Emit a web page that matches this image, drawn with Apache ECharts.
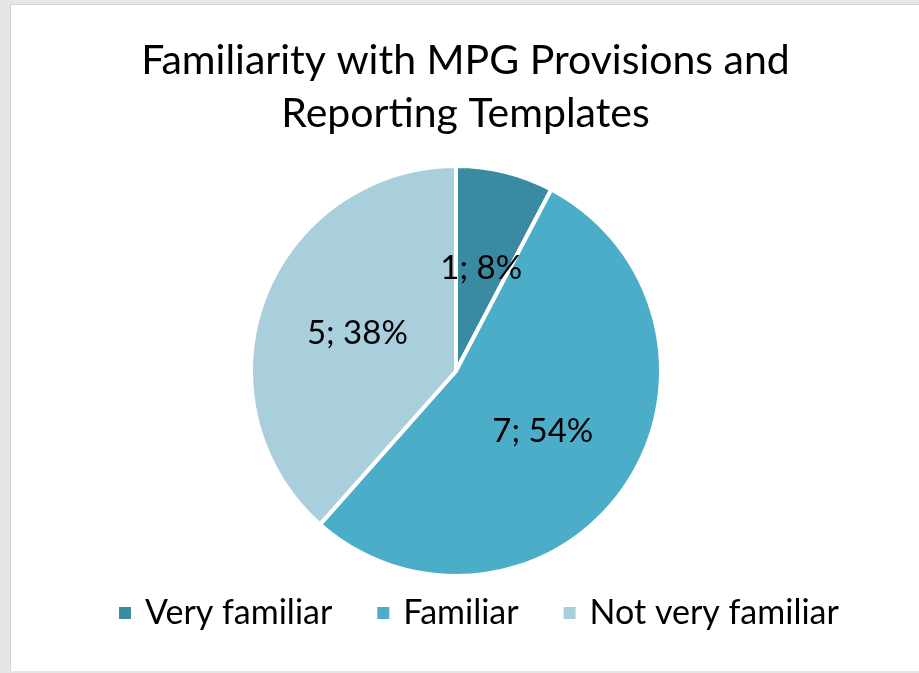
<!DOCTYPE html>
<html>
<head>
<meta charset="utf-8">
<script src="https://cdn.jsdelivr.net/npm/echarts@6/dist/echarts.min.js"></script>
<style>
  html, body {
    margin: 0;
    padding: 0;
    width: 919px;
    height: 673px;
    background: #e6e6e6;
    overflow: hidden;
  }
  .chart {
    position: absolute;
    left: 10px;
    top: 4px;
    width: 909px;
    height: 666px;
    background: #fff;
    border-left: 1px solid #d4d4d4;
    border-top: 1px solid #d4d4d4;
  }
</style>
</head>
<body>
<div class="chart" id="chart"></div>
<script>
const categories = ["Very familiar", "Familiar", "Not very familiar"];
const counts = [1, 7, 5];
const colors = ["#3a8ba1", "#4badc7", "#a9cfdd"];

const font = "Lato, 'Noto Sans', sans-serif";
const total = counts.reduce((a, b) => a + b, 0);

const chart = echarts.init(document.getElementById("chart"));
chart.setOption({
  animation: false,
  title: {
    text: "Familiarity with MPG Provisions and\nReporting Templates",
    left: "center",
    top: 24,
    textStyle: {
      fontFamily: font,
      fontSize: 41,
      fontWeight: "normal",
      color: "#000",
      lineHeight: 53
    }
  },
  legend: {
    data: categories,
    bottom: 36,
    left: 101,
    icon: "rect",
    itemWidth: 14,
    itemHeight: 14,
    itemGap: 43,
    textStyle: {
      fontFamily: font,
      fontSize: 34,
      color: "#000",
      padding: [0, 0, 0, 8]
    }
  },
  series: [
    {
      type: "pie",
      radius: 205,
      center: [445, 366],
      startAngle: 90,
      clockwise: true,
      data: categories.map((name, i) => ({
        name: name,
        value: counts[i],
        itemStyle: { color: colors[i] }
      })),
      itemStyle: {
        borderColor: "#fff",
        borderWidth: 4
      },
      label: {
        position: "inside",
        fontFamily: font,
        fontSize: 33,
        color: "#000",
        formatter: p => p.value + "; " + Math.round(p.value / total * 100) + "%"
      },
      labelLine: { show: false }
    }
  ]
});
</script>
</body>
</html>
